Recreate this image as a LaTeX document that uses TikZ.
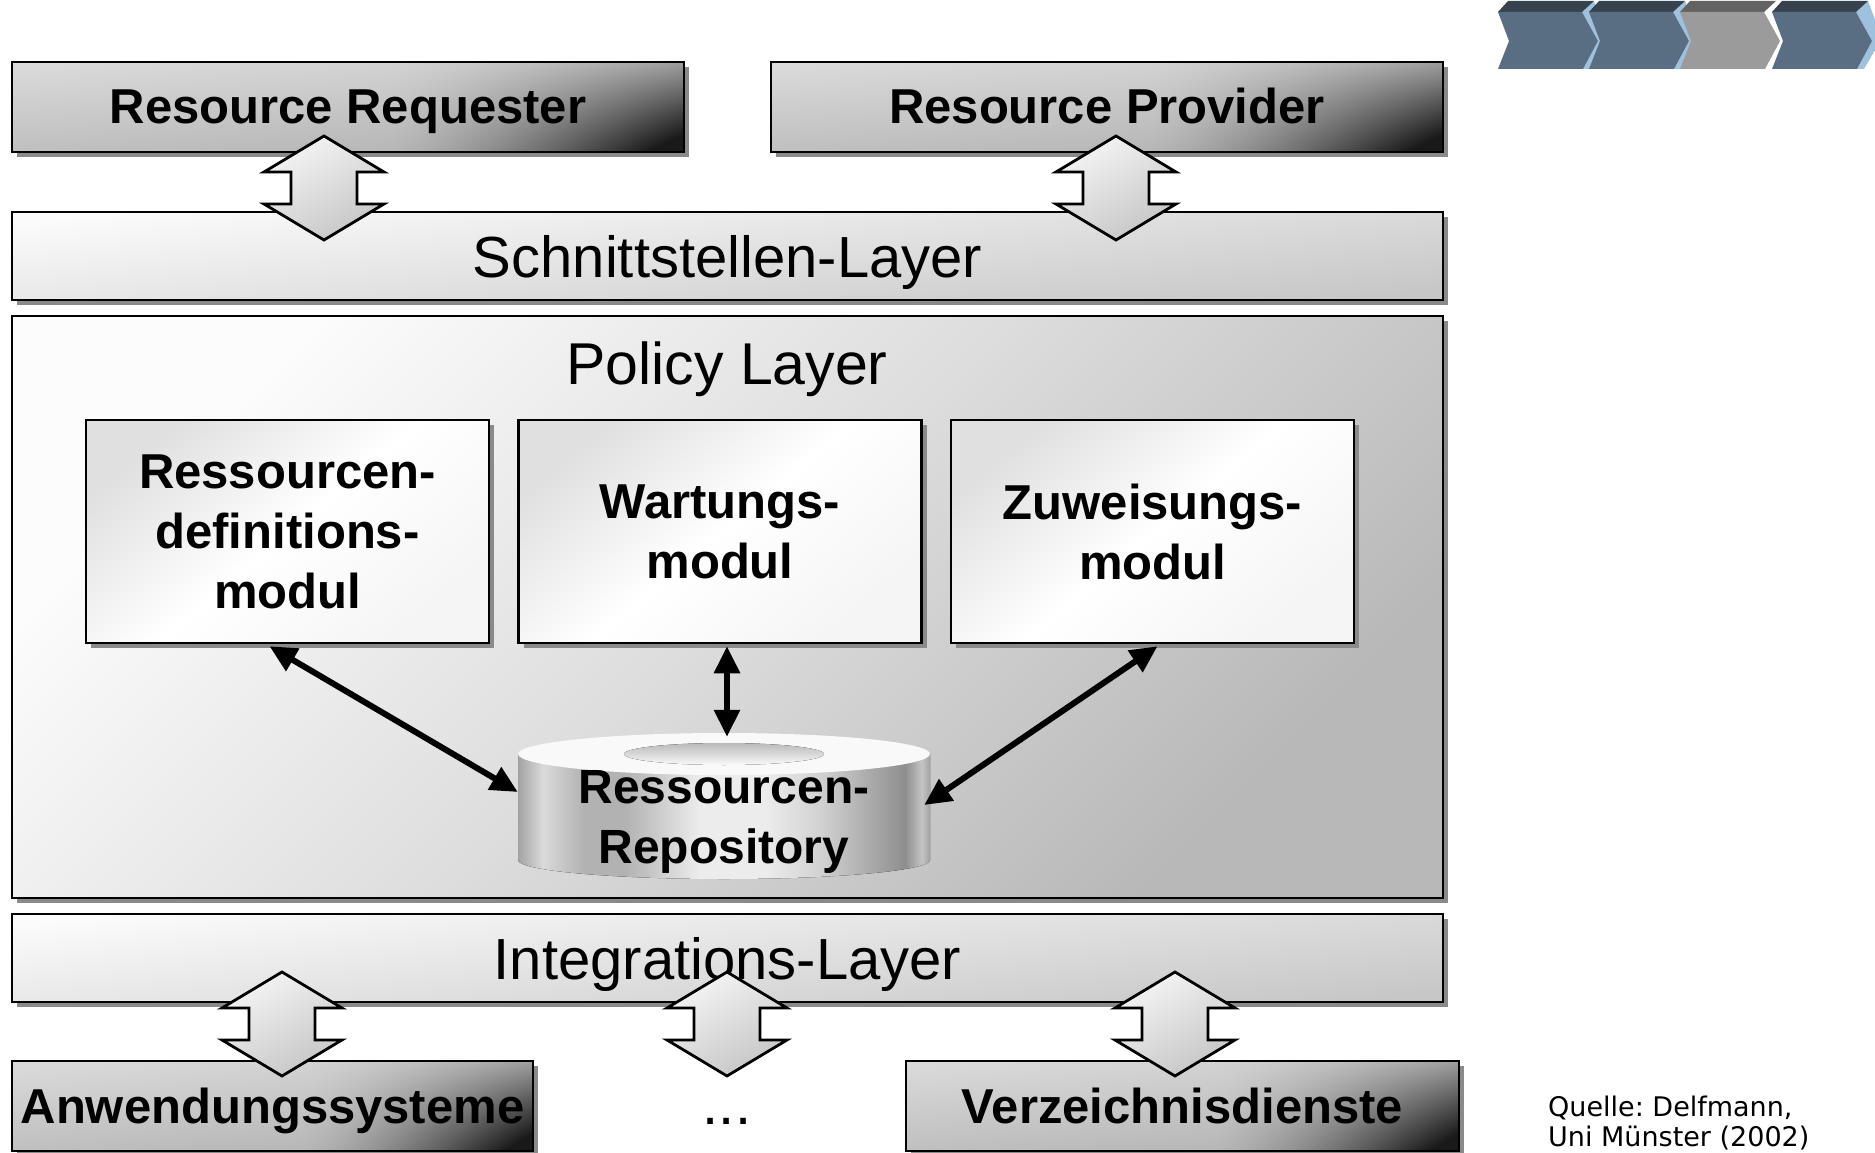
\documentclass[tikz,border=0pt]{standalone}
\usepackage{fontspec}
\setmainfont{Liberation Sans}
\newfontfamily\srcfont{DejaVu Sans}
\usetikzlibrary{arrows.meta,calc,shadows}
\frenchspacing

% palette
\definecolor{chevbody}{HTML}{5A6E83}
\definecolor{chevtop}{HTML}{36424E}
\definecolor{chevside}{HTML}{9EC1DE}
\definecolor{chevgray}{HTML}{9B9B9B}
\definecolor{chevgraytop}{HTML}{636363}
\definecolor{shadowgray}{HTML}{8A8A8A}

% actor boxes: light grey, lighter at the top, dark in the lower right corner
% (u = 0..1 left to right, v = 0..1 bottom to top)
\pgfdeclarefunctionalshading{actorshade}{\pgfpointorigin}{\pgfpoint{100bp}{100bp}}{}{
  25 sub 50 div
  exch 25 sub 50 div
  dup 0.55 sub 0.45 div dup abs add 2 div
  dup sqrt mul 0.72 mul
  2 index 0.75 mul 1 exch sub mul
  exch 0.06 mul add
  exch 1 exch sub 0.11 mul add
  0.86 exch sub
  0.1 sub dup abs add 2 div 0.1 add
  dup dup
}

% metallic side of the repository cylinder
\definecolor{cyla}{HTML}{8E8E8E}
\definecolor{cylb}{HTML}{DADADA}
\definecolor{cylc}{HTML}{B2B2B2}
\definecolor{cyld}{HTML}{ECECEC}
\definecolor{cyle}{HTML}{D0D0D0}
\definecolor{cylf}{HTML}{A2A2A2}
\definecolor{cylg}{HTML}{C4C4C4}
\pgfdeclarehorizontalshading{cylside}{100bp}{color(0bp)=(cyla); color(25bp)=(cylf);
  color(28bp)=(cylb); color(33bp)=(cylc); color(38bp)=(cylc); color(47bp)=(cyld);
  color(55bp)=(cyld); color(62bp)=(cyle); color(69bp)=(cylf); color(72bp)=(cyla);
  color(74bp)=(cylg); color(75bp)=(cylf); color(100bp)=(cylf)}

% one 3D chevron of the process bar: x offset, body, top, side colours
\newcommand{\chevronat}[4]{%
  \fill[#4] ({#1+84},12) -- ({#1+96},1) -- ({#1+110},38) -- ({#1+92},69)
    -- ({#1+85},69) -- ({#1+100},41) -- cycle;
  \fill[#3] ({#1+10},1) -- ({#1+96},1) -- ({#1+84},12) -- (#1,12) -- cycle;
  \fill[#2] (#1,12) -- ({#1+84},12) -- ({#1+100},41) -- ({#1+85},69)
    -- (#1,69) -- ({#1+11},41) -- cycle;
}

\tikzset{
  boxshadow/.style={drop shadow={shadow xshift=5pt, shadow yshift=-5pt,
      fill=shadowgray, opacity=1}},
  actor/.style={draw=black, line width=2.5pt, shading=actorshade,
      minimum height=90pt, inner sep=0pt, text height=44pt, text depth=10pt, boxshadow,
      font=\bfseries\fontsize{49}{58}\selectfont},
  layer/.style={draw=black, line width=2.5pt, top color=gray!3, bottom color=gray!44,
      shading angle=6, minimum width=1431pt, minimum height=88pt, inner sep=0pt,
      text height=52pt, text depth=10pt, boxshadow, font=\fontsize{58}{70}\selectfont},
  module/.style={draw=black, line width=2.5pt, top color=gray!24, bottom color=gray!8,
      middle color=white, shading angle=40, minimum width=403pt, minimum height=223pt,
      inner sep=0pt, align=center, boxshadow, font=\bfseries\fontsize{49}{60}\selectfont},
  conn/.style={line width=6pt, >={Triangle[length=27pt,width=25pt]}, <->},
  blockarrow/.style={draw=black, line width=2.8pt, line join=miter,
      top color=gray!8, bottom color=gray!45, shading angle=30},
  dblarrow/.pic={
    \path[blockarrow] (0,-52) -- (60,-16) -- (33,-16) -- (33,16) -- (60,16)
      -- (0,52) -- (-60,16) -- (-33,16) -- (-33,-16) -- (-60,-16) -- cycle;
  },
}

\begin{document}
\begin{tikzpicture}[x=1pt,y=-1pt]
\useasboundingbox (0,0) rectangle (1875,1153);
\fill[white] (0,0) rectangle (1875,1153);
\clip (0,0) rectangle (1875,1153);

% process bar, top right
\chevronat{1498}{chevbody}{chevtop}{chevside}
\chevronat{1589}{chevbody}{chevtop}{chevside}
\chevronat{1680}{chevgray}{chevgraytop}{white}
\chevronat{1772}{chevbody}{chevtop}{chevside}

% requester / provider
\node[actor, minimum width=672pt] (rr) at (348,107) {Resource Requester};
\node[actor, minimum width=672pt] (rp) at (1107,107) {Resource Provider};

% interface layer
\node[layer] (schnitt) at (727.5,256) {Schnittstellen-Layer};
\pic at (324,188) {dblarrow};
\pic at (1116,188) {dblarrow};

% policy layer with its modules
\node[draw=black, line width=2.5pt, top color=gray!2, bottom color=gray!56,
      middle color=gray!27, shading angle=45, minimum width=1431pt,
      minimum height=582pt, inner sep=0pt, boxshadow] (policy) at (727.5,607) {};
\node[font=\fontsize{59}{70}\selectfont, inner sep=0pt, anchor=base] (ptitle)
      at (727,384) {Policy Layer};

\node[module] (m1) at (287.5,531.5) {Ressourcen-\\definitions-\\modul};
\node[module] (m2) at (720,531.5) {Wartungs-\\modul};
\node[module] (m3) at (1152.5,531.5) {Zuweisungs-\\modul};

% repository cylinder
\fill[shading=cylside] (518,754) -- (518,860)
  arc[start angle=180, end angle=0, x radius=206, y radius=19] -- (930,754) -- cycle;
\fill[gray!5] (724,754) ellipse[x radius=206, y radius=21];
\fill[top color=gray!55, bottom color=gray!4] (724,754) ellipse[x radius=100, y radius=11];
\node[minimum width=412pt, minimum height=128pt, inner sep=0pt, align=center,
      font=\bfseries\fontsize{48}{60}\selectfont] (repo) at (724,822)
      {Ressourcen-\\Repository};

\draw[conn] ($(m1.south)+(-18,2)$) -- ($(repo.west)+(0,-30)$);
\draw[conn] ($(m2.south)+(7,2)$) -- ($(repo.north)+(3,-21)$);
\draw[conn] ($(m3.south)+(5,2)$) -- ($(repo.east)+(-6,-17)$);

% integration layer and connected systems
\node[layer] (integ) at (727.5,958) {Integrations-Layer};
\node[actor, minimum width=521pt] (anw) at (272.5,1106) {Anwendungssysteme};
\node[actor, minimum width=553pt] (verz) at (1182.5,1106) {Verzeichnisdienste};
\node[font=\fontsize{58}{70}\selectfont, inner sep=0pt, anchor=base] (dots) at (727,1124) {...};
\pic at (282,1024) {dblarrow};
\pic at (727,1024) {dblarrow};
\pic at (1175,1024) {dblarrow};

% source note
\node[anchor=north west, inner sep=0pt, align=left,
      font=\srcfont\fontsize{27}{30}\selectfont] (src) at (1548,1096)
      {Quelle: Delfmann,\\Uni Münster (2002)};
\end{tikzpicture}
\end{document}
